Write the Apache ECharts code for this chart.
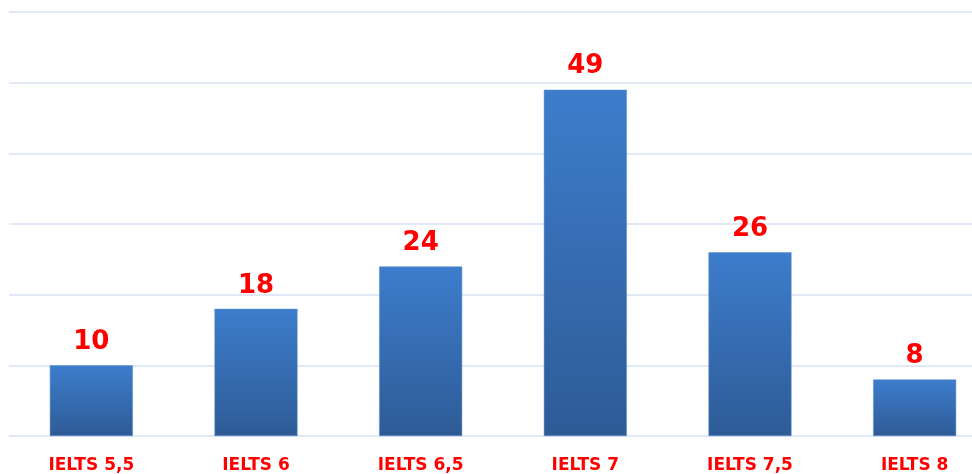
<!DOCTYPE html>
<html><head><meta charset="utf-8">
<script src="https://cdn.jsdelivr.net/npm/echarts@6/dist/echarts.min.js"></script>
<style>html,body{margin:0;padding:0;background:#fff}#c{width:972px;height:474px}</style>
</head><body><div id="c"></div>
<script>
const categories = ['IELTS 5,5','IELTS 6','IELTS 6,5','IELTS 7','IELTS 7,5','IELTS 8'];
const values = [10, 18, 24, 49, 26, 8];
const chart = echarts.init(document.getElementById('c'));
chart.setOption({
  animation: false,
  grid: {left: 9, top: 12, right: -25, height: 424, containLabel: false, outerBoundsMode: 'none'},
  xAxis: {
    type: 'category', data: categories,
    axisLine: {show: false}, axisTick: {show: false},
    axisLabel: {color: '#FF0000', fontWeight: 'bold', fontSize: 17, fontFamily: 'DejaVu Sans', margin: 21}
  },
  yAxis: {
    type: 'value', min: 0, max: 60, interval: 10,
    axisLabel: {show: false}, axisLine: {show: false}, axisTick: {show: false},
    splitLine: {lineStyle: {color: '#D6E2F2', width: 1.5}}
  },
  series: [{
    type: 'bar', data: values, barWidth: 83,
    itemStyle: {
      color: new echarts.graphic.LinearGradient(0, 0, 0, 1, [
        {offset: 0, color: '#3D7DCC'}, {offset: 1, color: '#2E5B96'}
      ]),
      borderColor: '#5B8FD0', borderWidth: 0.5
    },
    label: {show: true, position: 'top', distance: 10, color: '#FF0000', fontWeight: 'bold', fontSize: 26, fontFamily: 'DejaVu Sans'}
  }]
});
</script></body></html>
